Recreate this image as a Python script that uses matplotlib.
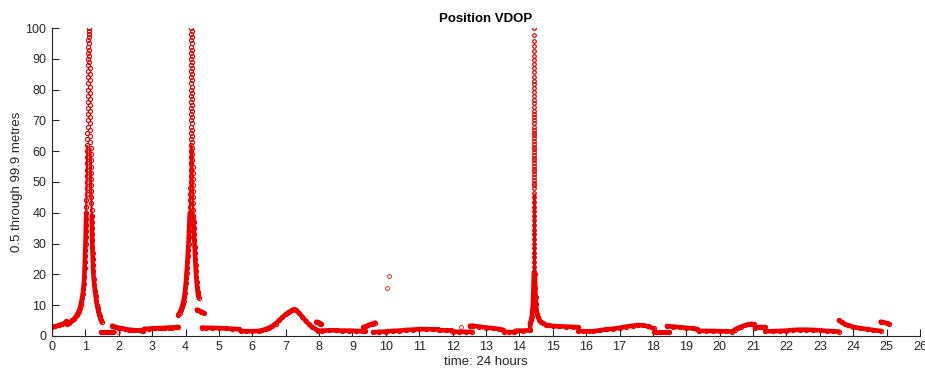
import numpy as np
import matplotlib.pyplot as plt

plt.rcParams['font.family'] = ['Liberation Sans', 'DejaVu Sans']

# --- continuous runs of the trace (time in hours, VDOP in metres) ---
run1_x = [0.0, 0.1, 0.2, 0.3, 0.38, 0.42, 0.45, 0.5, 0.55, 0.6, 0.65, 0.7, 0.74, 0.78,
          0.81, 0.84, 0.86, 0.88, 0.9, 0.92, 0.94, 0.955, 0.97,
          0.978, 0.985, 0.991, 0.997, 1.005, 1.009, 1.013, 1.017, 1.021, 1.025, 1.028,
          1.031, 1.034, 1.037, 1.040, 1.043, 1.046, 1.049, 1.052, 1.055, 1.058, 1.060,
          1.063, 1.066, 1.068, 1.070, 1.073, 1.075, 1.078, 1.080, 1.082, 1.083, 1.085,
          1.086, 1.088, 1.089, 1.091, 1.092, 1.094, 1.095]
run1_y = [2.8, 3.1, 3.4, 3.8, 4.1, 4.7, 3.9, 4.3, 4.6, 5.0, 5.4, 6.0, 6.7, 7.5,
          8.2, 9.2, 10.0, 11.0, 12.2, 13.6, 15.3, 17.0, 19.0,
          22, 24, 26, 28, 30, 32, 34, 36, 38, 40, 42, 44, 46, 48, 50, 52, 54, 56, 58,
          60, 62, 64, 66, 68, 70, 72, 74, 76, 78, 80, 82, 84, 86, 88, 90, 92, 94, 96,
          98, 100]

run2_x = [1.116, 1.117, 1.119, 1.120, 1.122, 1.123, 1.125, 1.126, 1.128, 1.130, 1.133,
          1.135, 1.138, 1.140, 1.143, 1.145, 1.148, 1.151, 1.153, 1.156, 1.159, 1.162,
          1.165, 1.168, 1.171, 1.174, 1.177, 1.180, 1.183, 1.186, 1.190, 1.193, 1.197,
          1.201, 1.205, 1.210, 1.216, 1.222, 1.229, 1.236,
          1.25, 1.27, 1.29, 1.31, 1.33, 1.35, 1.37, 1.39, 1.41, 1.43, 1.45, 1.47, 1.49]
run2_y = [99, 97, 95, 93, 91, 89, 87, 85, 83, 81, 79, 77, 75, 73, 71, 69, 67, 65, 63,
          61, 59, 57, 55, 53, 51, 49, 47, 45, 43, 41, 39, 37, 35, 33, 31, 29, 27, 25,
          23, 21,
          18.5, 16.5, 14.5, 12.8, 11.3, 10.0, 8.9, 8.0, 7.2, 6.4, 5.7, 5.1, 4.6]

run3_x = [1.48, 1.55, 1.62, 1.69, 1.76, 1.83]
run3_y = [1.1, 1.1, 1.1, 1.1, 1.1, 1.1]

run4_x = [1.81, 1.9, 2.0, 2.1, 2.2, 2.3, 2.4, 2.5, 2.6, 2.7, 2.74, 2.76, 2.9, 3.0, 3.1,
          3.2, 3.3, 3.4, 3.5, 3.6, 3.7, 3.78]
run4_y = [3.3, 2.9, 2.6, 2.4, 2.2, 2.0, 1.9, 1.8, 1.8, 1.7, 1.7, 2.3, 2.3, 2.4, 2.4,
          2.5, 2.5, 2.6, 2.7, 2.7, 2.8, 2.9]

run5_x = [3.78, 3.82, 3.86, 3.89, 3.92, 3.94, 3.96, 3.98, 3.995, 4.01, 4.02, 4.03,
          4.045, 4.057, 4.067, 4.077, 4.090, 4.098, 4.106, 4.113, 4.120, 4.130, 4.134,
          4.138, 4.142, 4.146, 4.150, 4.152, 4.154, 4.155, 4.157, 4.158, 4.159, 4.160,
          4.161, 4.162, 4.163, 4.164, 4.165, 4.165, 4.166, 4.167, 4.167, 4.168, 4.168,
          4.168, 4.169, 4.169, 4.170, 4.170, 4.171, 4.171]
run5_y = [6.8, 7.5, 8.4, 9.3, 10.4, 11.4, 12.6, 14.0, 15.6, 17.3, 18.8, 20.4,
          22, 24, 26, 28, 30, 32, 34, 36, 38, 40, 42, 44, 46, 48, 50, 52, 54, 56, 58,
          60, 62, 64, 66, 68, 70, 72, 74, 76, 78, 80, 82, 84, 86, 88, 90, 92, 94, 96,
          98, 100]

run6_x = [4.189, 4.190, 4.190, 4.191, 4.191, 4.192, 4.192, 4.193, 4.193, 4.194, 4.194,
          4.195, 4.196, 4.197, 4.198, 4.199, 4.200, 4.201, 4.202, 4.203, 4.205, 4.207,
          4.209, 4.211, 4.213, 4.216, 4.219, 4.223, 4.227, 4.232, 4.237, 4.243, 4.250,
          4.257, 4.264, 4.272, 4.281, 4.290, 4.300, 4.310,
          4.32, 4.335, 4.35, 4.365, 4.38, 4.395]
run6_y = [99, 97, 95, 93, 91, 89, 87, 85, 83, 81, 79, 77, 75, 73, 71, 69, 67, 65, 63,
          61, 59, 57, 55, 53, 51, 49, 47, 45, 43, 41, 39, 37, 35, 33, 31, 29, 27, 25,
          23, 21,
          19.2, 17.4, 15.8, 14.3, 13.2, 12.4]

run7_x = [4.34, 4.38, 4.42, 4.46, 4.5, 4.55]
run7_y = [8.5, 8.3, 8.1, 7.9, 7.6, 7.3]

run8_x = [4.49, 4.6, 4.8, 5.0, 5.2, 5.4, 5.6, 5.65, 5.8, 6.0, 6.2, 6.3, 6.4, 6.5, 6.6,
          6.7, 6.8, 6.9, 7.0, 7.1, 7.2, 7.25, 7.3, 7.4, 7.5, 7.6, 7.7, 7.8, 7.93]
run8_y = [2.7, 2.6, 2.6, 2.5, 2.4, 2.3, 2.2, 1.6, 1.5, 1.5, 1.6, 1.8, 2.2, 2.6, 3.2,
          4.0, 5.0, 6.0, 7.0, 7.8, 8.4, 8.6, 8.4, 7.4, 6.2, 4.8, 3.7, 2.8, 2.0]

run9_x = [7.92, 7.96, 8.0, 8.04, 8.07]
run9_y = [4.6, 4.4, 4.2, 4.0, 3.9]

run10_x = [7.98, 8.1, 8.3, 8.5, 8.7, 8.9, 9.1, 9.3, 9.38]
run10_y = [1.7, 1.7, 1.8, 1.8, 1.7, 1.7, 1.6, 1.5, 1.5]

run11_x = [9.33, 9.4, 9.47, 9.54, 9.61, 9.68]
run11_y = [2.8, 3.1, 3.4, 3.7, 4.0, 4.3]

run12_x = [9.63, 9.8, 10.0, 10.2, 10.4, 10.6, 10.8, 11.0, 11.2, 11.4, 11.55, 11.6, 11.8,
           11.95, 12.0, 12.2, 12.4, 12.57]
run12_y = [1.2, 1.3, 1.4, 1.6, 1.7, 1.9, 2.0, 2.2, 2.2, 2.1, 2.1, 1.8, 1.8, 1.8, 1.4,
           1.3, 1.3, 1.3]

run13_x = [12.52, 12.6, 12.8, 13.0, 13.2, 13.4, 13.5, 13.55, 13.7, 13.85, 13.9, 14.1,
           14.33, 14.32, 14.35, 14.37, 14.39, 14.405, 14.415, 14.425, 14.435]
run13_y = [3.3, 3.3, 3.0, 2.7, 2.5, 2.2, 2.0, 1.3, 1.2, 1.3, 1.7, 1.7, 1.8,
           4.1, 5.0, 6.2, 8.0, 10.5, 13.5, 17.0, 20.5]

run14_x = [14.465, 14.475, 14.485, 14.495, 14.51, 14.53, 14.56, 14.6, 14.65, 14.7, 14.8,
           14.9, 15.0, 15.2, 15.4, 15.6, 15.77]
run14_y = [20, 15.5, 12.5, 10.3, 8.5, 7.2, 6.0, 5.2, 4.5, 4.1, 3.6, 3.4, 3.2, 3.1, 3.0,
           2.9, 2.8]

run15_x = [15.77, 15.9, 16.1, 16.22, 16.4, 16.6, 16.8, 17.0, 17.2, 17.4, 17.55, 17.7,
           17.85, 18.02]
run15_y = [1.6, 1.5, 1.5, 1.5, 1.8, 2.1, 2.3, 2.6, 3.0, 3.3, 3.5, 3.4, 3.1, 2.4]

run16_x = [18.02, 18.1, 18.2, 18.3, 18.4, 18.47]
run16_y = [1.4, 1.4, 1.4, 1.4, 1.4, 1.4]

run17_x = [18.42, 18.6, 18.8, 19.0, 19.2, 19.32, 19.37, 19.6, 19.8, 20.0, 20.2, 20.37,
           20.45, 20.55, 20.65, 20.75, 20.85, 20.95, 21.02]
run17_y = [3.2, 3.0, 2.8, 2.6, 2.4, 2.2, 1.6, 1.6, 1.6, 1.5, 1.5, 1.4,
           2.0, 2.6, 3.0, 3.4, 3.7, 3.9, 3.7]

run18_x = [21.05, 21.15, 21.25, 21.37]
run18_y = [2.6, 2.8, 2.9, 2.8]

run19_x = [21.37, 21.6, 21.8, 22.0, 22.2, 22.4, 22.6, 22.8, 23.0, 23.2, 23.4, 23.57]
run19_y = [1.5, 1.5, 1.6, 1.7, 1.9, 2.0, 2.0, 1.9, 1.8, 1.6, 1.5, 1.4]

run20_x = [23.57, 23.65, 23.75, 23.85, 24.0, 24.2, 24.4, 24.6, 24.82]
run20_y = [5.0, 4.4, 3.8, 3.4, 2.9, 2.5, 2.2, 1.9, 1.6]

run21_x = [24.82, 24.9, 25.0, 25.07]
run21_y = [4.6, 4.4, 4.1, 3.9]

# sparse column of the third spike (same heights on both sides)
spike3_time_left = 14.448
spike3_time_right = 14.452
spike3_y = [100, 97.7, 95.9, 94.2, 92.6, 91.0, 89.6, 88.2, 86.9, 85.6, 84.2, 82.9, 81.7,
            80.4, 79.1, 77.9, 76.6, 75.5, 74.2, 73.1, 72.1, 71.0, 70.0, 69.0, 68.0, 67.0,
            66.0, 65.1, 64.2, 63.3, 62.4, 61.5, 60.6, 59.7, 58.8, 57.9, 57.0, 56.1, 55.2,
            54.3, 53.4, 52.5, 51.6, 50.7, 49.8, 48.9, 48.0, 46.5, 45.0, 43.5, 42.0, 40.5,
            39.0, 37.5, 36.0, 34.5, 33.0, 31.5, 30.0, 28.5, 27.0, 25.5, 24.0, 22.5, 21.0]

# isolated samples
lone_x = [1.99, 10.04, 10.1, 12.25]
lone_y = [1.1, 15.5, 19.3, 2.8]

runs = [(run1_x, run1_y), (run2_x, run2_y), (run3_x, run3_y), (run4_x, run4_y),
        (run5_x, run5_y), (run6_x, run6_y), (run7_x, run7_y), (run8_x, run8_y),
        (run9_x, run9_y), (run10_x, run10_y), (run11_x, run11_y), (run12_x, run12_y),
        (run13_x, run13_y), (run14_x, run14_y), (run15_x, run15_y), (run16_x, run16_y),
        (run17_x, run17_y), (run18_x, run18_y), (run19_x, run19_y), (run20_x, run20_y),
        (run21_x, run21_y)]

red = '#ee0000'
grey = '#262626'

fig = plt.figure(figsize=(9.25, 3.74), dpi=100)
ax = fig.add_axes([0.0562, 0.102, 0.9384, 0.823])

# samples packed densely: thick band near the floor, thinner band up the spikes
for xs, ys in runs:
    xs = np.array(xs)
    ys = np.array(ys)
    low = ys <= 40
    mid = ys <= 62
    ax.plot(xs[mid], ys[mid], '-', color=red, lw=1.6, solid_capstyle='butt')
    ax.plot(xs[low], ys[low], '-', color=red, lw=3.3, solid_capstyle='round',
            solid_joinstyle='round')
    ax.plot(xs, ys, 'o', color=red, mfc='none', ms=3.0, mew=0.8, ls='none')

s3 = np.array(spike3_y)
s3_low = s3 <= 47
ax.plot([spike3_time_left] * s3_low.sum(), s3[s3_low], '-', color=red, lw=2.2,
        solid_capstyle='butt')
ax.plot([spike3_time_left] * len(s3), s3, 'o', color=red, mfc='none',
        ms=2.6, mew=0.7, ls='none', alpha=0.85)
ax.plot([spike3_time_right] * len(s3), s3, 'o', color=red, mfc='none',
        ms=2.6, mew=0.7, ls='none', alpha=0.85)
ax.plot(lone_x, lone_y, 'o', color=red, mfc='none', ms=2.8, mew=0.7, ls='none',
        alpha=0.85)

ax.set_xlim(0, 26)
ax.set_ylim(0, 100)
ax.set_xticks(np.arange(0, 27, 1))
ax.set_yticks(np.arange(0, 101, 10))

for s in ['top', 'right']:
    ax.spines[s].set_visible(False)
for s in ['left', 'bottom']:
    ax.spines[s].set_color(grey)
    ax.spines[s].set_linewidth(0.8)
ax.tick_params(direction='in', length=5, width=0.8, color=grey, labelcolor=grey,
               labelsize=9, pad=4)

ax.set_title('Position VDOP', fontsize=9.5, fontweight='bold', pad=4)
ax.set_xlabel('time: 24 hours', fontsize=9.5, color=grey, labelpad=2)
ax.set_ylabel('0.5 through 99.9 metres', fontsize=9.5, color=grey, labelpad=2)

fig.savefig('out.png', dpi=100)
